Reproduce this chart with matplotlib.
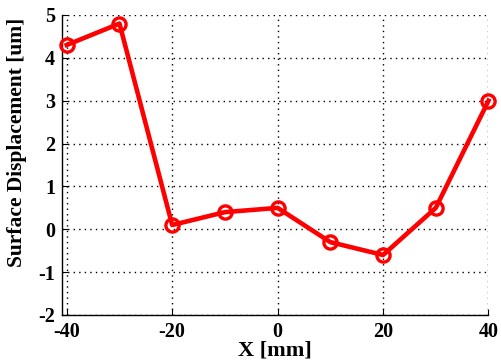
import matplotlib
matplotlib.use('Agg')
import matplotlib.pyplot as plt

# measured surface displacement along X
x_mm = [-40, -30, -20, -10, 0, 10, 20, 30, 40]
disp_um = [4.3, 4.8, 0.1, 0.4, 0.5, -0.3, -0.6, 0.5, 3.0]
x_ticks = [-40, -20, 0, 20, 40]
y_ticks = [-2, -1, 0, 1, 2, 3, 4, 5]

plt.rcParams['font.family'] = ['Liberation Serif', 'DejaVu Serif']
plt.rcParams['font.weight'] = 'bold'
plt.rcParams['axes.unicode_minus'] = False

fig = plt.figure(figsize=(5.01, 3.61), dpi=100)
ax = fig.add_axes([62/501, 1 - 315/361, (488.5-62)/501, (315-15)/361])

ax.plot(x_mm, disp_um, color='red', linewidth=3.3, marker='o', markersize=9.5,
        markerfacecolor='none', markeredgewidth=2.4, markeredgecolor='red',
        clip_on=False, zorder=5)

ax.set_xlim(-40.9, 40)
ax.set_ylim(-2, 5)
ax.set_xticks(x_ticks)
ax.set_yticks(y_ticks)
ax.grid(True, linestyle=(0, (1, 3)), color='black', linewidth=1.0)
ax.tick_params(direction='in', labelsize=14.5, length=4, width=0.8)
ax.tick_params(axis='x', pad=5)
ax.tick_params(axis='y', pad=5)
for lbl in ax.get_xticklabels() + ax.get_yticklabels():
    lbl.set_fontweight('bold')
ax.spines['top'].set_visible(False)
ax.spines['right'].set_visible(False)
ax.spines['left'].set_linewidth(1.0)
ax.spines['bottom'].set_linewidth(1.0)

ax.set_xlabel('X [mm]', fontsize=16, fontweight='bold')
ax.set_ylabel('Surface Displacement [um]', fontsize=15.5, fontweight='bold')
ax.xaxis.set_label_coords(0.5, -0.085)
ax.yaxis.set_label_coords(-0.083, 0.577)

fig.savefig('out.png', dpi=100)
